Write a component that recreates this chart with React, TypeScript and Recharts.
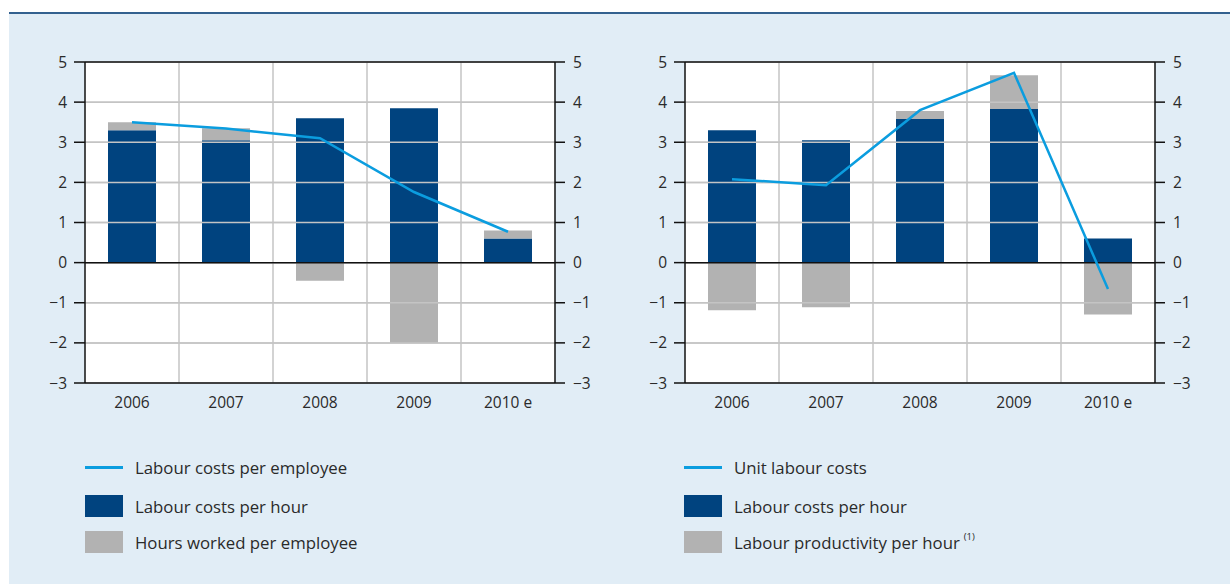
import React from 'react';
import { ComposedChart, Bar, Line, XAxis, YAxis, CartesianGrid, ReferenceLine } from 'recharts';

const categories = ['2006', '2007', '2008', '2009', '2010 e'];
const yTicks = [-3, -2, -1, 0, 1, 2, 3, 4, 5];

const leftLineName = 'Labour costs per employee';
const leftDarkName = 'Labour costs per hour';
const leftGreyName = 'Hours worked per employee';
const leftLine = [3.5, 3.34, 3.1, 1.76, 0.77];
const leftDark = [3.3, 3.05, 3.6, 3.85, 0.6];
const leftGrey = [0.2, 0.3, -0.45, -2.0, 0.2];

const rightLineName = 'Unit labour costs';
const rightDarkName = 'Labour costs per hour';
const rightGreyName = 'Labour productivity per hour';
const rightNote = '(1)';
const rightLine = [2.08, 1.93, 3.8, 4.73, -0.66];
const rightDark = [3.3, 3.05, 3.58, 3.83, 0.6];
const rightGrey = [-1.19, -1.11, 0.2, 0.84, -1.29];

const FONT = '"Open Sans", "Noto Sans", sans-serif';
const DARK = '#00437f';
const GREY = '#b2b2b2';
const LIGHT = '#0b9ddf';
const BG = '#e1edf6';
const TEXT = '#2a2a2a';
const GRID = '#c4c4c4';

const CW = 615;
const CH = 430;
const AXW = 40;
const M_TOP = 62;
const M_BOTTOM = 17;
const X_H = 30;

const Y_MIN = yTicks[0];
const Y_MAX = yTicks[yTicks.length - 1];

const fmt = (v: number) => (v < 0 ? '\u2212' + Math.abs(v) : String(v));

const build = (line: number[], dark: number[], grey: number[]) =>
  categories.map((c, i) => ({ cat: c, line: line[i], dark: dark[i], grey: grey[i] }));

const vGridGen = ({ offset }: any) => {
  const arr: number[] = [];
  for (let i = 1; i < categories.length; i++) arr.push(offset.left + (offset.width * i) / categories.length);
  return arr;
};

const hGridGen = ({ offset }: any) =>
  yTicks.map((t) => offset.top + (offset.height * (Y_MAX - t)) / (Y_MAX - Y_MIN));

function Panel({ data, mLeft, mRight }: { data: any[]; mLeft: number; mRight: number }) {
  const tickStyle = { fill: TEXT, fontSize: 15.5, fontFamily: FONT };
  const plotW = CW - mLeft - mRight - 2 * AXW;
  const plotH = CH - M_TOP - M_BOTTOM - X_H;
  return (
    <div style={{ position: 'relative', width: CW, height: CH }}>
      <div
        style={{
          position: 'absolute',
          left: mLeft + AXW,
          top: M_TOP,
          width: plotW,
          height: plotH,
          background: '#ffffff',
        }}
      />
      <div style={{ position: 'absolute', left: 0, top: 0 }}>
        <ComposedChart
          width={CW}
          height={CH}
          data={data}
          stackOffset="sign"
          margin={{ top: M_TOP, right: mRight, bottom: M_BOTTOM, left: mLeft }}
        >
          <XAxis
            dataKey="cat"
            height={X_H}
            tickLine={false}
            tickSize={0}
            tickMargin={14}
            axisLine={{ stroke: '#111', strokeWidth: 1.5 }}
            tick={tickStyle}
            interval={0}
          />
          <YAxis
            yAxisId="l"
            domain={[Y_MIN, Y_MAX]}
            ticks={yTicks}
            width={AXW}
            tickSize={11}
            tickMargin={7}
            tickFormatter={fmt}
            axisLine={{ stroke: '#111', strokeWidth: 1.5 }}
            tickLine={{ stroke: '#111', strokeWidth: 1.5 }}
            tick={tickStyle}
            allowDataOverflow
          />
          <YAxis
            yAxisId="r"
            orientation="right"
            domain={[Y_MIN, Y_MAX]}
            ticks={yTicks}
            width={AXW}
            tickSize={10}
            tickMargin={8}
            tickFormatter={fmt}
            axisLine={{ stroke: '#111', strokeWidth: 1.5 }}
            tickLine={{ stroke: '#111', strokeWidth: 1.5 }}
            tick={tickStyle}
            allowDataOverflow
          />
          <CartesianGrid
            yAxisId="l"
            stroke={GRID}
            strokeWidth={1.5}
            fill="none"
            horizontalCoordinatesGenerator={hGridGen}
            verticalCoordinatesGenerator={vGridGen}
          />
          {yTicks
            .filter((t) => t !== 0 && t !== Y_MAX && t !== Y_MIN)
            .map((t) => (
              <ReferenceLine key={'g' + t} yAxisId="l" y={t} stroke={GRID} strokeWidth={1.5} />
            ))}
          <ReferenceLine yAxisId="l" y={Y_MAX} stroke="#111" strokeWidth={1.5} />
          <Bar yAxisId="l" dataKey="dark" stackId="s" fill={DARK} barSize={48} isAnimationActive={false} />
          <Bar yAxisId="l" dataKey="grey" stackId="s" fill={GREY} barSize={48} isAnimationActive={false} />
          <ReferenceLine yAxisId="l" y={0} stroke="#111" strokeWidth={1.5} />
          <Line
            yAxisId="l"
            dataKey="line"
            stroke={LIGHT}
            strokeWidth={2.5}
            dot={false}
            activeDot={false}
            isAnimationActive={false}
          />
        </ComposedChart>
      </div>
    </div>
  );
}

function LegendBlock({ x, items }: { x: number; items: { kind: string; color: string; label: string; note?: string }[] }) {
  const rowsY = [467, 506, 542];
  return (
    <>
      {items.map((it, i) => (
        <div key={i} style={{ position: 'absolute', left: x, top: rowsY[i] - 15, height: 30, display: 'flex', alignItems: 'center' }}>
          <div style={{ width: 38, height: 30, display: 'flex', alignItems: 'center' }}>
            <div style={{ width: 38, height: it.kind === 'line' ? 3 : 22, background: it.color }} />
          </div>
          <span style={{ marginLeft: 12, fontFamily: FONT, fontSize: 16.8, color: TEXT, whiteSpace: 'nowrap' }}>
            {it.label}
            {it.note ? (
              <sup style={{ fontSize: 9.5, marginLeft: 4, verticalAlign: 'top', position: 'relative', top: -1 }}>{it.note}</sup>
            ) : null}
          </span>
        </div>
      ))}
    </>
  );
}

export default function App() {
  const leftData = build(leftLine, leftDark, leftGrey);
  const rightData = build(rightLine, rightDark, rightGrey);
  return (
    <div style={{ position: 'fixed', left: 0, top: 0, width: 1230, height: 584, background: '#fff', overflow: 'hidden' }}>
      <div style={{ position: 'absolute', left: 9, top: 14, right: 0, bottom: 0, background: BG }} />
      <div style={{ position: 'absolute', left: 9, top: 12, right: 0, height: 2, background: '#33618f' }} />
      <div style={{ position: 'absolute', left: 0, top: 0 }}>
        <Panel data={leftData} mLeft={45} mRight={20} />
      </div>
      <div style={{ position: 'absolute', left: 615, top: 0 }}>
        <Panel data={rightData} mLeft={30} mRight={35} />
      </div>
      <LegendBlock
        x={85}
        items={[
          { kind: 'line', color: LIGHT, label: leftLineName },
          { kind: 'box', color: DARK, label: leftDarkName },
          { kind: 'box', color: GREY, label: leftGreyName },
        ]}
      />
      <LegendBlock
        x={684}
        items={[
          { kind: 'line', color: LIGHT, label: rightLineName },
          { kind: 'box', color: DARK, label: rightDarkName },
          { kind: 'box', color: GREY, label: rightGreyName, note: rightNote },
        ]}
      />
    </div>
  );
}
